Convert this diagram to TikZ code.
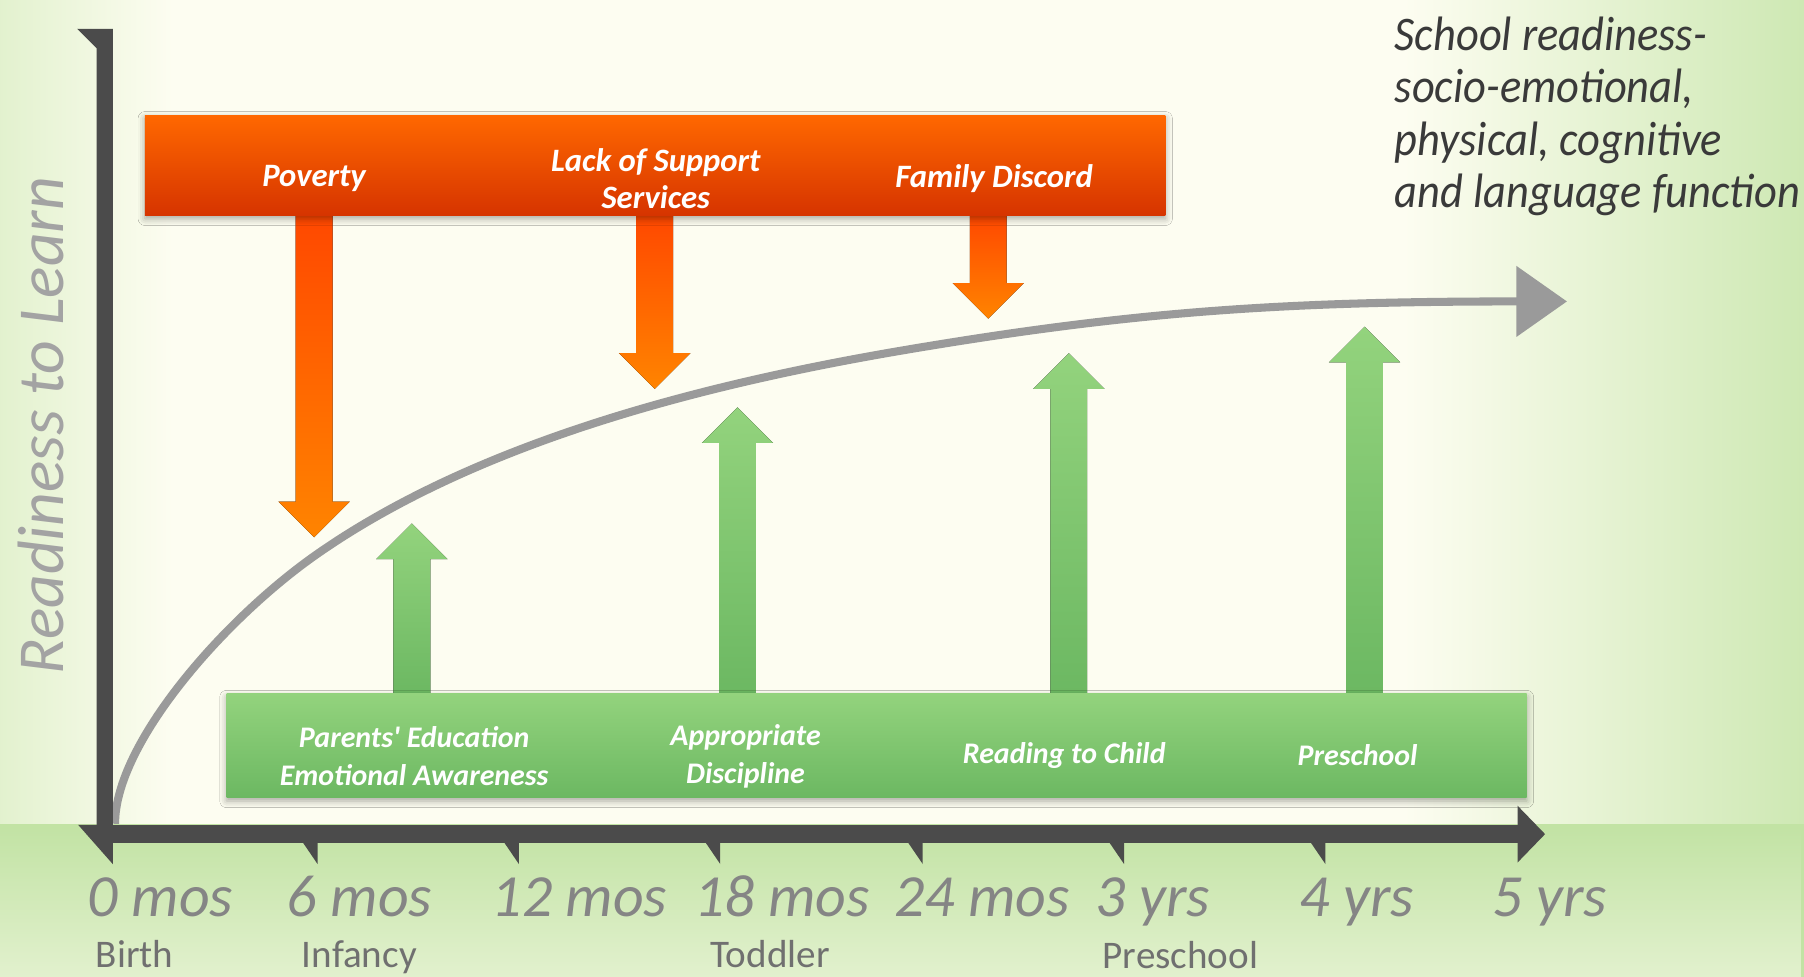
\documentclass[tikz,border=0pt]{standalone}
\usepackage{fontspec}
\setmainfont{Carlito}
\newfontfamily\barfont[Ligatures=TeXOff]{Carlito}
\newfontfamily\goalfont[FakeStretch=0.92]{Carlito}
\usetikzlibrary{arrows.meta,calc,fadings,shadows.blur}

\definecolor{cream}{RGB}{253,253,241}
\definecolor{lawn}{RGB}{194,227,164}
\definecolor{axisgray}{RGB}{75,75,75}
\definecolor{curvegray}{RGB}{154,154,154}
\definecolor{riskhi}{RGB}{255,104,0}
\definecolor{risklo}{RGB}{214,52,0}
\definecolor{arrowhi}{RGB}{255,72,0}
\definecolor{arrowlo}{RGB}{255,132,0}
\definecolor{helphi}{RGB}{147,211,125}
\definecolor{helplo}{RGB}{108,184,98}
\definecolor{ticktext}{RGB}{133,133,133}
\definecolor{stagetext}{RGB}{112,112,112}
\definecolor{sidetext}{RGB}{163,163,163}
\definecolor{goaltext}{RGB}{58,58,58}

% block arrow from a tail point to a tip point
\newcommand{\blockarrow}[3]{%
  \path (#2) coordinate (tail) (#3) coordinate (tip) ($(tip)!15.5pt!(tail)$) coordinate (neck);
  \fill[#1] ($(tail)!8pt!90:(tip)$) -- ($(neck)!8pt!90:(tip)$) -- ($(neck)!15.5pt!90:(tip)$)
    -- (tip) -- ($(neck)!15.5pt!-90:(tip)$) -- ($(neck)!8pt!-90:(tip)$) -- ($(tail)!8pt!-90:(tip)$) -- cycle;
}

\tikzset{
  bar label/.style={text=white, font=\barfont\bfseries\itshape\fontsize{13}{16.5}\selectfont, align=center},
  risk label/.style={bar label, font=\barfont\bfseries\itshape\fontsize{14.2}{16}\selectfont},
  age label/.style={anchor=base west, inner sep=0pt, text=ticktext, font=\itshape\fontsize{26}{28}\selectfont},
  stage label/.style={anchor=base west, inner sep=0pt, text=stagetext, font=\fontsize{17}{18}\selectfont},
  down shade/.style={top color=arrowhi, bottom color=arrowlo},
  up shade/.style={top color=helphi, bottom color=helplo},
  bar shadow/.style={blur shadow={shadow xshift=0pt, shadow yshift=-1.5pt, shadow blur radius=3pt, shadow opacity=35}}
}

\begin{document}
\begin{tikzpicture}[x=0.5pt,y=-0.5pt]
    % background, with green edges and ground band
    \fill[cream] (0,0) rectangle (1568,849);
    \shade[left color=lawn!45!cream, right color=cream] (0,0) rectangle (150,717);
    \shade[left color=cream, right color=lawn!80!cream] (1220,0) rectangle (1568,717);
    \shade[left color=lawn, middle color=cream!85!lawn, right color=lawn] (0,717) rectangle (1568,849);
    \fill[cream, path fading=north, fill opacity=0.55] (0,717) rectangle (1568,849);
    \useasboundingbox (0,0) rectangle (1568,849);

    \coordinate (riskfoot) at (0,187);
    \coordinate (helptop) at (0,603);

    \coordinate (povtip) at (273,467);
    \coordinate (lacktip) at (569,338);
    \coordinate (disctip) at (859,277);
    \coordinate (eductip) at (358,455);
    \coordinate (apttip) at (641,354);
    \coordinate (readtip) at (929,307);
    \coordinate (preschtip) at (1186,284);

    \blockarrow{down shade}{povtip |- riskfoot}{povtip}
    \blockarrow{down shade}{lacktip |- riskfoot}{lacktip}
    \blockarrow{down shade}{disctip |- riskfoot}{disctip}
    \blockarrow{up shade}{eductip |- helptop}{eductip}
    \blockarrow{up shade}{apttip |- helptop}{apttip}
    \blockarrow{up shade}{readtip |- helptop}{readtip}
    \blockarrow{up shade}{preschtip |- helptop}{preschtip}

    % the two bars and their labels
    \path[bar shadow, top color=riskhi, bottom color=risklo] (126,100) rectangle (1013,187);
    \path[bar shadow, top color=helphi, bottom color=helplo] (197,603) rectangle (1327,693);
    \node[risk label] (pov) at (273,155) {Poverty};
    \node[risk label] (lack) at (570,155) {Lack of Support\\Services};
    \node[risk label] (disc) at (864,155) {Family Discord};
    \node[bar label] (educ) at (360,657) {Parents' Education\\Emotional Awareness};
    \node[bar label] (apt) at (648,657) {Appropriate\\Discipline};
    \node[bar label] (read) at (925,657) {Reading to Child};
    \node[bar label] (presch) at (1180,656) {Preschool};

    % growth curve
    \draw[curvegray, line width=3.5pt, -{Triangle[length=22pt,width=30pt]}]
      (100,716) .. controls (100,646) and (195,538) .. (275,482)
      .. controls (415,384) and (612,334) .. (782,305)
      .. controls (982,271) and (1112,262) .. (1362,262);

    % axes
    \fill[axisgray] (84,733) -- (84,42) -- (67,25) -- (98,25) -- (98,733) -- cycle;
    \fill[axisgray] (68,717) -- (98,717) -- (98,751) -- cycle;
    \draw[axisgray, line width=8pt, -{Triangle[length=12pt,width=24pt]}] (96,725) coordinate (origin) -- (1343,725) coordinate (xend);
    \foreach \x in {276,451,626,802,977,1152}
      \fill[axisgray] (\x-15,729) -- (\x,729) -- (\x,751) -- cycle;

    \foreach \x/\t [count=\i] in {76/0 mos,249/6 mos,427/12 mos,603/18 mos,777/24 mos,952/3 yrs,1129/4 yrs,1297/5 yrs}
      \node[age label] (age\i) at (\x,797) {\t};
    \node[stage label] (birth) at (83,841) {Birth};
    \node[stage label] (infancy) at (262,841) {Infancy};
    \node[stage label] (toddler) at (617,841) {Toddler};
    \node[stage label] (preschool) at (958,842) {Preschool};

    \node[rotate=90, anchor=base, text=sidetext, font=\itshape\fontsize{28.5}{30}\selectfont] (readiness) at (55,370) {Readiness to Learn};
    \node[anchor=north west, align=left, text=goaltext, font=\goalfont\itshape\fontsize{21}{22.8}\selectfont, inner sep=0pt] (goal) at (1212,14)
      {School readiness-\\socio-emotional,\\physical, cognitive\\and language function};
\end{tikzpicture}
\end{document}
